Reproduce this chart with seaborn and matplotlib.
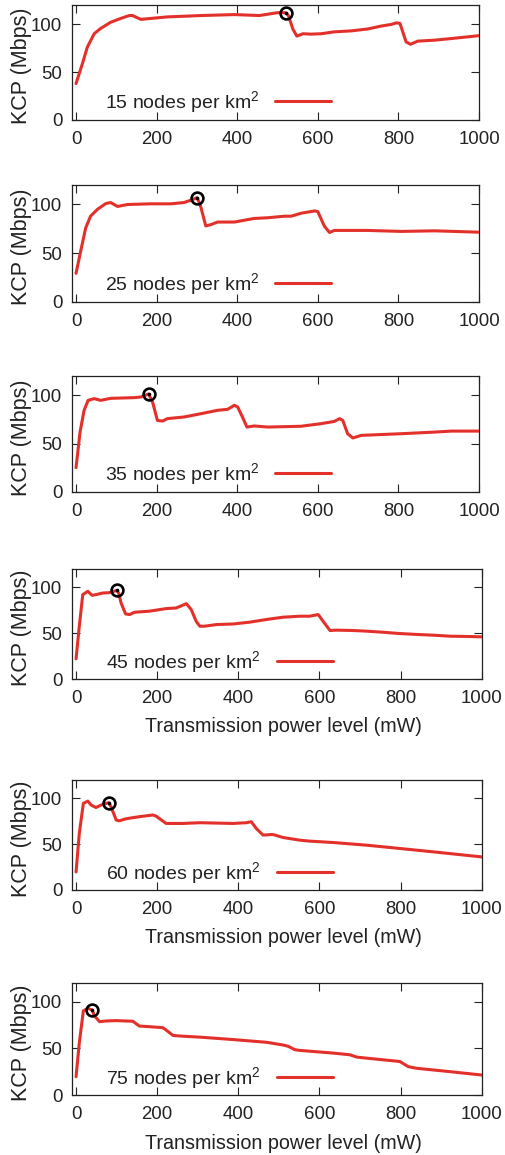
import matplotlib
matplotlib.use("Agg")
import matplotlib.pyplot as plt
import pandas as pd
import seaborn as sns

# Node densities (nodes per km^2), one panel each
densities = [15, 25, 35, 45, 60, 75]

power_15 = [0, 16, 28, 45, 61, 86, 111, 132, 140, 161, 186, 227, 310, 393, 455, 476, 500, 520,
            527, 538, 548, 563, 583, 608, 641, 683, 724, 757, 782, 795, 804, 819, 830, 848, 890,
            931, 1000]
kcp_15 = [38, 59, 76, 90, 95.5, 102, 106, 109, 109, 105, 106, 107.6, 109, 110, 109, 110.4, 112, 112,
          109, 95, 87.5, 90, 89.6, 90, 92, 93, 95, 98, 99.7, 101.4, 100.7, 81.6, 79, 82.3, 83.3,
          85, 88]

power_25 = [0, 12, 24, 36, 53, 74, 86, 103, 128, 186, 235, 268, 289, 300, 308, 322, 335, 351, 393,
            442, 476, 517, 534, 558, 592, 600, 616, 629, 641, 724, 807, 890, 1000]
kcp_25 = [29.4, 53, 76, 88, 95, 101, 102, 98, 100, 100.7, 100.7, 102, 105, 107, 100, 78, 79.4, 82, 82,
          85.7, 86.4, 88, 88, 91, 93.4, 92.7, 78, 71.3, 73.4, 73.4, 72.4, 73, 71.6]

power_35 = [0, 10, 20, 30, 45, 61, 86, 144, 161, 180, 190, 202, 215, 227, 268, 310, 351, 376, 393,
            401, 413, 424, 442, 476, 558, 608, 641, 654, 662, 674, 687, 708, 807, 890, 931, 1000]
kcp_35 = [25.2, 62, 84.5, 94.8, 96.6, 94.8, 96.9, 97.6, 98.3, 101.4, 93, 74, 73.4, 75.9, 77.6, 81, 84.5,
          85.5, 89.7, 88, 77.6, 67.2, 68.3, 67.2, 68, 70.7, 73, 75.9, 74, 60.3, 55.9, 58.6, 60.3,
          62, 63, 63]

power_45 = [0, 8, 16.5, 29, 39.5, 49, 66, 82, 100, 105, 111, 122, 132, 144, 181, 222, 247, 272, 284,
            296, 305, 317, 346, 387, 428, 469, 510, 551, 576, 597, 609, 626, 642, 683, 716, 757,
            798, 840, 881, 922, 963, 1000]
kcp_45 = [22, 57.6, 92, 95.7, 91.3, 92, 93.8, 94.2, 96.6, 93.8, 83, 71, 70.3, 72.8, 74, 76.8, 77.5,
          82.2, 75.7, 63, 57.6, 57.6, 59.4, 60, 62, 64.9, 67.4, 68.5, 68.5, 70.3, 63, 52.9, 53.3,
          52.9, 52.2, 51, 49.6, 48.6, 47.8, 46.7, 46.4, 46]

power_60 = [0, 8, 18, 29, 37, 49, 62, 80, 86, 99, 107, 123, 156, 189, 197, 222, 263, 305, 387, 420,
            432, 444, 461, 485, 510, 551, 576, 634, 716, 798, 881, 1000]
kcp_60 = [19.7, 61.7, 94.5, 97, 92.7, 90, 92.7, 95.3, 91, 76.3, 75.5, 77.7, 80, 81.8, 80.7, 72.6, 72.6,
          73.4, 72.6, 73.4, 74.5, 67.2, 59.9, 60.6, 57.3, 54.4, 53.3, 51.8, 48.9, 45.3, 41.6, 36.1]

power_75 = [0, 8, 18, 29, 40, 45, 58, 74, 99, 140, 156, 181, 214, 222, 239, 263, 305, 387, 469, 510,
            523, 539, 551, 634, 675, 692, 716, 798, 819, 840, 922, 1000]
kcp_75 = [19.6, 55.8, 90.2, 92.8, 91, 84.8, 78.6, 79.3, 79.7, 79, 73.9, 73.2, 72.1, 69.6, 63.8, 63,
          62, 59.4, 56.5, 53.6, 52.2, 48.6, 47.8, 44.9, 43.1, 40.6, 39.5, 35.9, 30.4, 28.6, 25, 21.4]

# Best operating point marked with a circle in every panel
best_power = [520, 300, 180, 100, 80, 40]
best_kcp = [112, 107, 101.4, 96.6, 95.3, 91]

x_ticks = [0, 200, 400, 600, 800, 1000]
y_ticks = [0, 50, 100]

series = [(power_15, kcp_15), (power_25, kcp_25), (power_35, kcp_35),
          (power_45, kcp_45), (power_60, kcp_60), (power_75, kcp_75)]

sns.set_style("ticks")
plt.rcParams['font.family'] = ['Liberation Sans', 'DejaVu Sans']
plt.rcParams['mathtext.fontset'] = 'custom'
plt.rcParams['mathtext.rm'] = 'Liberation Sans'
plt.rcParams['mathtext.default'] = 'regular'

RED = '#e3302a'
INK = '#222222'
W, H = 506, 1155
fig = plt.figure(figsize=(W / 100, H / 100), dpi=100)

# panel boxes in pixels: left, top, right, bottom
boxes = [(72, 5, 479, 120), (72, 185, 479, 302), (72, 376, 479, 492),
         (72, 569, 481.7, 679), (72, 780, 481.7, 890), (72, 983, 481.7, 1095)]
show_xlabel = [False, False, False, True, True, True]

for i, (d, (px, ky)) in enumerate(zip(densities, series)):
    l, t, r, b = boxes[i]
    ax = fig.add_axes([l / W, 1 - b / H, (r - l) / W, (b - t) / H])
    df = pd.DataFrame({'power': px, 'kcp': ky})
    sns.lineplot(data=df, x='power', y='kcp', ax=ax, color=RED, lw=2.2,
                 label=f"{d} nodes per km$^2$", zorder=3)
    ax.plot([best_power[i]], [best_kcp[i]], 'o', ms=8.5, mfc='none', mec='black', mew=1.9, zorder=4)
    ax.plot([best_power[i]], [best_kcp[i]], 'o', ms=1.6, color='black', zorder=5)

    ax.set_xlim(-10, 1000)
    ax.set_ylim(0, 120)
    ax.set_xticks(x_ticks)
    ax.set_yticks(y_ticks)
    ax.tick_params(direction='in', length=5.5, width=0.8, top=True, right=True,
                   labelsize=13.4, colors=INK)
    ax.tick_params(axis='x', pad=8)
    ax.tick_params(axis='y', pad=7)
    for s in ax.spines.values():
        s.set_visible(True)
        s.set_linewidth(0.9)
        s.set_color(INK)

    ax.set_ylabel('KCP (Mbps)', fontsize=15.5, color=INK)
    ax.yaxis.set_label_coords(-0.098, 0.47)
    if show_xlabel[i]:
        ax.set_xlabel('Transmission power level (mW)', fontsize=14.2, color=INK)
        ax.xaxis.set_label_coords(0.517, -0.345)
    else:
        ax.set_xlabel('')

    ax.legend(loc='center right', bbox_to_anchor=(0.636, 0.155), frameon=False,
              markerfirst=False, handlelength=2.85, handletextpad=0.85, borderpad=0,
              borderaxespad=0, fontsize=14, labelcolor=INK)

fig.savefig('out.png', dpi=100)
